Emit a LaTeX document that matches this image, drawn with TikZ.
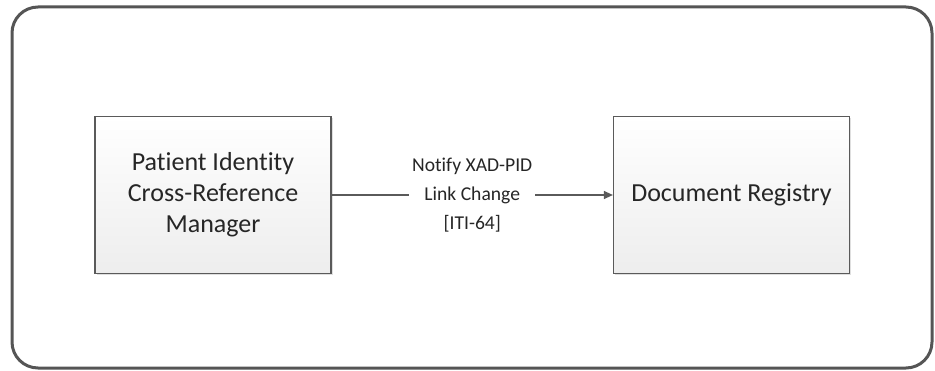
\documentclass[tikz,border=0pt]{standalone}
\usepackage{fontspec}
\setmainfont{Carlito}[Ligatures={NoCommon}]
\usetikzlibrary{arrows.meta,shadows}
\definecolor{edge}{HTML}{5A5A5A}
\definecolor{frame}{HTML}{555555}
\tikzset{
  actor/.style={draw=edge, line width=1.2pt, top color=white, bottom color=black!7,
    minimum width=236pt, minimum height=157pt, align=center, font=\fontsize{26}{31}\selectfont,
    text=black!85, drop shadow={shadow xshift=1.5pt, shadow yshift=-1.5pt, opacity=0.25}},
  flow/.style={draw=edge, line width=1.2pt, -{Triangle[length=9pt,width=8pt]}},
  lbl/.style={font=\fontsize{19.6}{29}\selectfont, align=center, text=black!85, fill=white, inner sep=3pt}
}
\begin{document}
\begin{tikzpicture}[x=1pt,y=1pt]
\useasboundingbox (0,0) rectangle (935,370);
\draw[frame, line width=3pt, rounded corners=26pt] (12,2) rectangle (932,363);
\node[actor] (pix) at (213,175) {Patient Identity\\Cross-Reference\\Manager};
\node[actor] (reg) at (731.5,175) {Document Registry};
\draw[flow] (pix.east) -- node[lbl] (msg) {Notify XAD-PID\\Link Change\\{[ITI-64]}} (reg.west);
\end{tikzpicture}
\end{document}
